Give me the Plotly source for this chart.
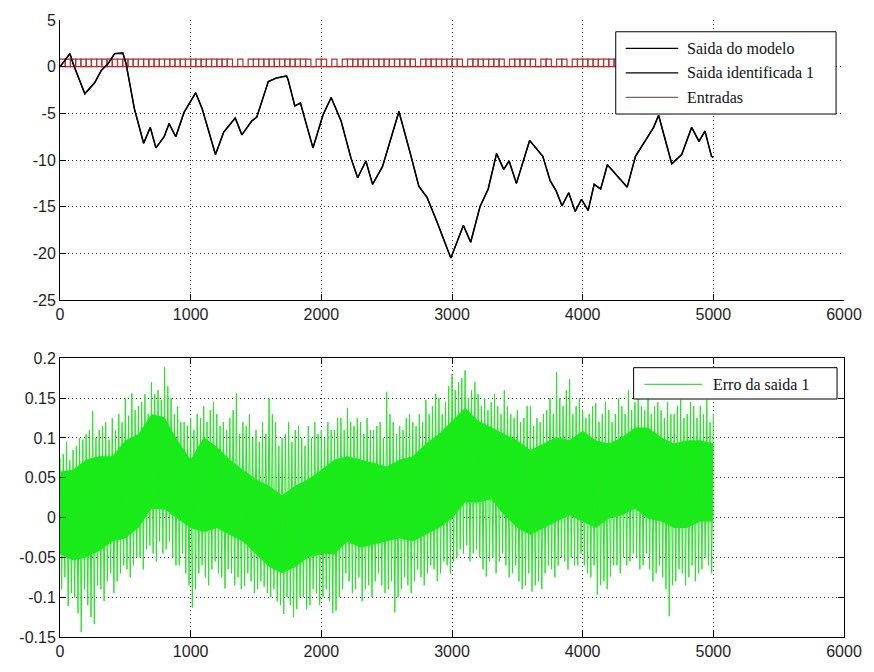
import plotly.graph_objects as go
from plotly.subplots import make_subplots

# ---------------- data ----------------
# model output (sample index, value); the identified output follows it
model_t = [0, 76, 101, 190, 266, 316, 367, 418, 481, 506,
           569, 640, 691, 734, 797, 835, 886, 949, 1038, 1088,
           1190, 1253, 1341, 1392, 1468, 1506, 1594, 1658, 1734, 1746,
           1797, 1840, 1936, 2012, 2075, 2151, 2227, 2278, 2341, 2392,
           2468, 2594, 2683, 2746, 2809, 2885, 2991, 3087, 3143, 3214,
           3277, 3341, 3396, 3437, 3493, 3594, 3695, 3751, 3797, 3842,
           3893, 3943, 3991, 4042, 4088, 4138, 4189, 4341, 4404, 4480,
           4543, 4581, 4682, 4758, 4834, 4890, 4936, 4986, 5000]
model_y = [0.0, 1.4, 0.3, -2.9, -1.7, -0.4, 0.3, 1.4, 1.45, 0.3,
           -4.5, -8.2, -6.5, -8.7, -7.5, -6.1, -7.5, -4.9, -2.8, -4.5,
           -9.4, -7.0, -5.5, -7.3, -5.8, -5.4, -1.6, -1.2, -1.0, -1.4,
           -4.2, -3.9, -8.7, -5.2, -3.3, -5.8, -9.8, -11.9, -10.1, -12.6,
           -10.7, -4.8, -9.4, -12.8, -14.0, -16.6, -20.5, -17.0, -18.8, -15.0,
           -13.1, -9.3, -11.0, -10.1, -12.5, -7.9, -9.6, -12.2, -13.3, -14.9,
           -13.5, -15.5, -14.2, -15.4, -12.6, -13.1, -10.5, -12.9, -9.6, -7.9,
           -6.5, -5.2, -10.4, -9.4, -6.5, -8.0, -6.9, -9.6, -9.7]
ident_t = model_t
ident_y = model_y

# inputs: level per 40-sample slot (125 slots)
input_slot = 40
input_amp = 0.8
entrada_1 = [int(c) for c in
             "1010101010" "1010101010" "1010101010" "1010101010" "1010101000"
             "1010101010" "1010101000" "1010101010" "1010101010" "1010001010"
             "1010101010" "1010101010" "10101"]
entrada_2 = [int(c) for c in
             "0101010101" "0101010101" "0101010101" "0100000101" "0101010101"
             "0000010101" "0101010101" "0101010001" "0101000101" "0001010001"
             "0101010101" "0101010101" "01010"]

# output error: dense band (every 100 samples)
core_t = list(range(0, 5001, 100))
core_hi = [0.058, 0.060, 0.073, 0.077, 0.077, 0.097, 0.105, 0.130, 0.126, 0.097,
           0.073, 0.101, 0.089, 0.073, 0.060, 0.048, 0.040, 0.028, 0.040, 0.048,
           0.060, 0.073, 0.077, 0.073, 0.069, 0.064, 0.073, 0.077, 0.093, 0.105,
           0.122, 0.138, 0.122, 0.113, 0.105, 0.097, 0.085, 0.093, 0.101, 0.097,
           0.109, 0.097, 0.093, 0.101, 0.113, 0.113, 0.101, 0.093, 0.097, 0.097,
           0.093]
core_lo = [-0.046, -0.054, -0.050, -0.042, -0.030, -0.026, -0.013, 0.011, 0.010, -0.001,
           -0.013, -0.018, -0.013, -0.022, -0.030, -0.046, -0.062, -0.070, -0.062, -0.050,
           -0.046, -0.046, -0.030, -0.038, -0.034, -0.030, -0.026, -0.030, -0.022, -0.013,
           -0.001, 0.019, 0.019, 0.023, 0.003, -0.013, -0.022, -0.013, -0.005, 0.003,
           -0.005, -0.013, -0.001, 0.003, 0.011, -0.001, -0.005, -0.013, -0.013, -0.005,
           -0.005]

# output error: spike extremes at samples 0, 50, ..., 5000
spike_hi = [0.075, 0.095, 0.085, 0.100, 0.105, 0.134, 0.110, 0.120, 0.125, 0.130,
            0.150, 0.156, 0.140, 0.155, 0.170, 0.160, 0.189, 0.150, 0.140, 0.120,
            0.125, 0.130, 0.140, 0.135, 0.130, 0.120, 0.125, 0.156, 0.120, 0.130,
            0.110, 0.120, 0.150, 0.120, 0.100, 0.120, 0.110, 0.100, 0.115, 0.120,
            0.110, 0.120, 0.110, 0.125, 0.138, 0.115, 0.120, 0.125, 0.110, 0.120,
            0.158, 0.120, 0.115, 0.125, 0.120, 0.130, 0.148, 0.140, 0.150, 0.145,
            0.180, 0.170, 0.185, 0.160, 0.155, 0.150, 0.145, 0.140, 0.160, 0.130,
            0.135, 0.125, 0.140, 0.125, 0.130, 0.150, 0.183, 0.140, 0.174, 0.140,
            0.135, 0.130, 0.144, 0.130, 0.135, 0.130, 0.140, 0.160, 0.145, 0.140,
            0.152, 0.140, 0.135, 0.145, 0.130, 0.148, 0.130, 0.140, 0.140, 0.148,
            0.130]
spike_lo = [-0.090, -0.111, -0.100, -0.144, -0.110, -0.134, -0.090, -0.080, -0.095, -0.070,
            -0.065, -0.060, -0.050, -0.040, -0.045, -0.030, -0.040, -0.050, -0.060, -0.070,
            -0.113, -0.070, -0.075, -0.065, -0.070, -0.089, -0.070, -0.075, -0.086, -0.080,
            -0.090, -0.087, -0.100, -0.105, -0.121, -0.110, -0.115, -0.100, -0.110, -0.095,
            -0.100, -0.105, -0.117, -0.090, -0.080, -0.090, -0.105, -0.085, -0.080, -0.085,
            -0.090, -0.119, -0.090, -0.085, -0.080, -0.075, -0.070, -0.065, -0.070, -0.060,
            -0.055, -0.040, -0.035, -0.045, -0.050, -0.074, -0.050, -0.055, -0.060, -0.070,
            -0.080, -0.085, -0.093, -0.080, -0.070, -0.065, -0.060, -0.055, -0.050, -0.060,
            -0.060, -0.075, -0.097, -0.080, -0.074, -0.060, -0.050, -0.055, -0.050, -0.060,
            -0.065, -0.070, -0.075, -0.124, -0.080, -0.070, -0.075, -0.080, -0.065, -0.060,
            -0.050]
# output error: spike extremes at samples 25, 75, ..., 4975
spike_hi_mid = [0.080, 0.072, 0.090, 0.098, 0.110, 0.100, 0.115, 0.098, 0.110, 0.120,
                0.128, 0.135, 0.145, 0.130, 0.155, 0.148, 0.165, 0.130, 0.120, 0.115,
                0.110, 0.125, 0.120, 0.145, 0.115, 0.110, 0.135, 0.105, 0.115, 0.100,
                0.095, 0.105, 0.130, 0.090, 0.105, 0.095, 0.115, 0.090, 0.100, 0.105,
                0.100, 0.110, 0.125, 0.110, 0.120, 0.125, 0.105, 0.110, 0.115, 0.100,
                0.130, 0.105, 0.110, 0.130, 0.115, 0.120, 0.130, 0.155, 0.130, 0.165,
                0.160, 0.175, 0.150, 0.170, 0.140, 0.135, 0.155, 0.130, 0.140, 0.125,
                0.120, 0.140, 0.115, 0.120, 0.135, 0.130, 0.150, 0.160, 0.130, 0.150,
                0.125, 0.140, 0.120, 0.145, 0.120, 0.150, 0.130, 0.135, 0.150, 0.135,
                0.130, 0.145, 0.125, 0.130, 0.140, 0.125, 0.145, 0.125, 0.130, 0.120]
spike_lo_mid = [-0.075, -0.095, -0.120, -0.090, -0.125, -0.085, -0.105, -0.070, -0.080, -0.060,
                -0.075, -0.050, -0.065, -0.035, -0.055, -0.045, -0.030, -0.060, -0.045, -0.085,
                -0.090, -0.060, -0.085, -0.055, -0.075, -0.065, -0.085, -0.090, -0.070, -0.095,
                -0.080, -0.095, -0.090, -0.110, -0.100, -0.125, -0.100, -0.115, -0.090, -0.110,
                -0.090, -0.120, -0.100, -0.070, -0.095, -0.075, -0.090, -0.100, -0.070, -0.095,
                -0.080, -0.100, -0.075, -0.095, -0.065, -0.085, -0.060, -0.080, -0.055, -0.070,
                -0.050, -0.045, -0.055, -0.040, -0.065, -0.055, -0.070, -0.045, -0.075, -0.060,
                -0.090, -0.070, -0.085, -0.090, -0.060, -0.075, -0.050, -0.065, -0.060, -0.045,
                -0.070, -0.060, -0.085, -0.090, -0.060, -0.070, -0.060, -0.045, -0.065, -0.045,
                -0.080, -0.060, -0.090, -0.085, -0.065, -0.085, -0.060, -0.070, -0.050, -0.070]

# axis ticks
x_ticks = [0, 1000, 2000, 3000, 4000, 5000, 6000]
y_ticks_top = [-25, -20, -15, -10, -5, 0, 5]
y_ticks_bot = [-0.15, -0.1, -0.05, 0, 0.05, 0.1, 0.15, 0.2]
y_text_bot = ["-0.15", "-0.1", "-0.05", "0", "0.05", "0.1", "0.15", "0.2"]

# ---------------- figure ----------------
W, H = 874, 672
ML, MR, MT, MB = 60, 24, 14, 28

RED = "#b03030"
GREEN = "#10f010"
GREEN_LINE = "#22e622"

fig = make_subplots(rows=2, cols=1, vertical_spacing=0.0)

# inputs as step signals
step_x = [input_slot * k for k in range(len(entrada_1) + 1)]
for lv in (entrada_1, entrada_2):
    fig.add_trace(go.Scatter(x=step_x, y=[v * input_amp for v in lv] + [lv[-1] * input_amp],
                             mode="lines", line=dict(color=RED, width=1.2, shape="hv"),
                             name="Entradas", showlegend=False), row=1, col=1)

fig.add_trace(go.Scatter(x=model_t, y=model_y, mode="lines",
                         line=dict(color="black", width=1.5),
                         name="Saida do modelo", showlegend=False), row=1, col=1)
fig.add_trace(go.Scatter(x=ident_t, y=ident_y, mode="lines",
                         line=dict(color="black", width=1.2),
                         name="Saida identificada 1", showlegend=False), row=1, col=1)

# error: dense band
fig.add_trace(go.Scatter(x=core_t, y=core_lo, mode="lines", line=dict(width=0, color=GREEN),
                         showlegend=False, hoverinfo="skip"), row=2, col=1)
fig.add_trace(go.Scatter(x=core_t, y=core_hi, mode="lines", line=dict(width=0, color=GREEN),
                         fill="tonexty", fillcolor=GREEN,
                         showlegend=False, hoverinfo="skip"), row=2, col=1)

# error: oscillation between the extremes, every 25 samples
err_s, err_hi, err_lo = [], [], []
for i in range(len(spike_hi_mid)):
    err_s += [50 * i, 50 * i + 25]
    err_hi += [spike_hi[i], spike_hi_mid[i]]
    err_lo += [spike_lo[i], spike_lo_mid[i]]
err_s.append(5000)
err_hi.append(spike_hi[-1])
err_lo.append(spike_lo[-1])

zx, zy = [], []
for s, hi, lo in zip(err_s, err_hi, err_lo):
    zx += [s, s + 12.5]
    zy += [hi, lo]
zx, zy = zx[:-1], zy[:-1]
fig.add_trace(go.Scatter(x=zx, y=zy, mode="lines", line=dict(color=GREEN_LINE, width=1),
                         name="Erro da saida 1", showlegend=False), row=2, col=1)

axis_common = dict(
    showline=True, linecolor="black", linewidth=1,
    ticks="inside", ticklen=6, tickcolor="black", tickwidth=1,
    showgrid=True, gridcolor="#2a2a2a", gridwidth=1, griddash="1px,3px",
    zeroline=False,
    tickfont=dict(family="Liberation Sans, Arial, sans-serif", size=16, color="#1e1e1e"),
)

fig.update_xaxes(range=[0, 6000], tickvals=x_ticks, ticktext=[str(v) for v in x_ticks],
                 **axis_common)
fig.update_yaxes(**axis_common)
fig.update_xaxes(mirror=False, row=1, col=1)
fig.update_xaxes(mirror="ticks", row=2, col=1)
fig.update_yaxes(range=[-25, 5], tickvals=y_ticks_top, ticktext=[str(v) for v in y_ticks_top],
                 mirror=False, domain=[0.546, 1.0], row=1, col=1)
fig.update_yaxes(range=[-0.15, 0.2], tickvals=y_ticks_bot, ticktext=y_text_bot,
                 mirror="ticks", domain=[0.0, 0.4516], row=2, col=1)


def fx(px):
    return (px - ML) / (W - ML - MR)


def fy(py):
    return (H - MB - py) / (H - MT - MB)


shapes = []
annotations = []
legend_font = dict(family="Liberation Serif, Times New Roman, serif", size=16, color="#111")


def legend_box(x0, x1, y0, y1, rows, line_x0, line_x1, text_x):
    shapes.append(dict(type="rect", xref="paper", yref="paper",
                       x0=fx(x0), x1=fx(x1), y0=fy(y1), y1=fy(y0),
                       line=dict(color="black", width=1), fillcolor="white", layer="above"))
    for ry, label, color in rows:
        shapes.append(dict(type="line", xref="paper", yref="paper",
                           x0=fx(line_x0), x1=fx(line_x1), y0=fy(ry), y1=fy(ry),
                           line=dict(color=color, width=1.2), layer="above"))
        annotations.append(dict(xref="paper", yref="paper", x=fx(text_x), y=fy(ry),
                                xanchor="left", yanchor="middle", showarrow=False,
                                text=label, font=legend_font))


legend_box(620, 842, 26, 110,
           [(43, "Saida do modelo", "black"),
            (68, "Saida identificada 1", "black"),
            (93, "Entradas", "#a85050")],
           630, 683, 690)
legend_box(638, 843, 369, 401,
           [(386, "Erro da saida 1", "#6cbf6c")],
           649, 707, 716)

fig.update_layout(
    width=W, height=H,
    margin=dict(l=ML, r=MR, t=MT, b=MB),
    paper_bgcolor="white", plot_bgcolor="white",
    showlegend=False,
    shapes=shapes, annotations=annotations,
)

fig.write_html("out.html")
